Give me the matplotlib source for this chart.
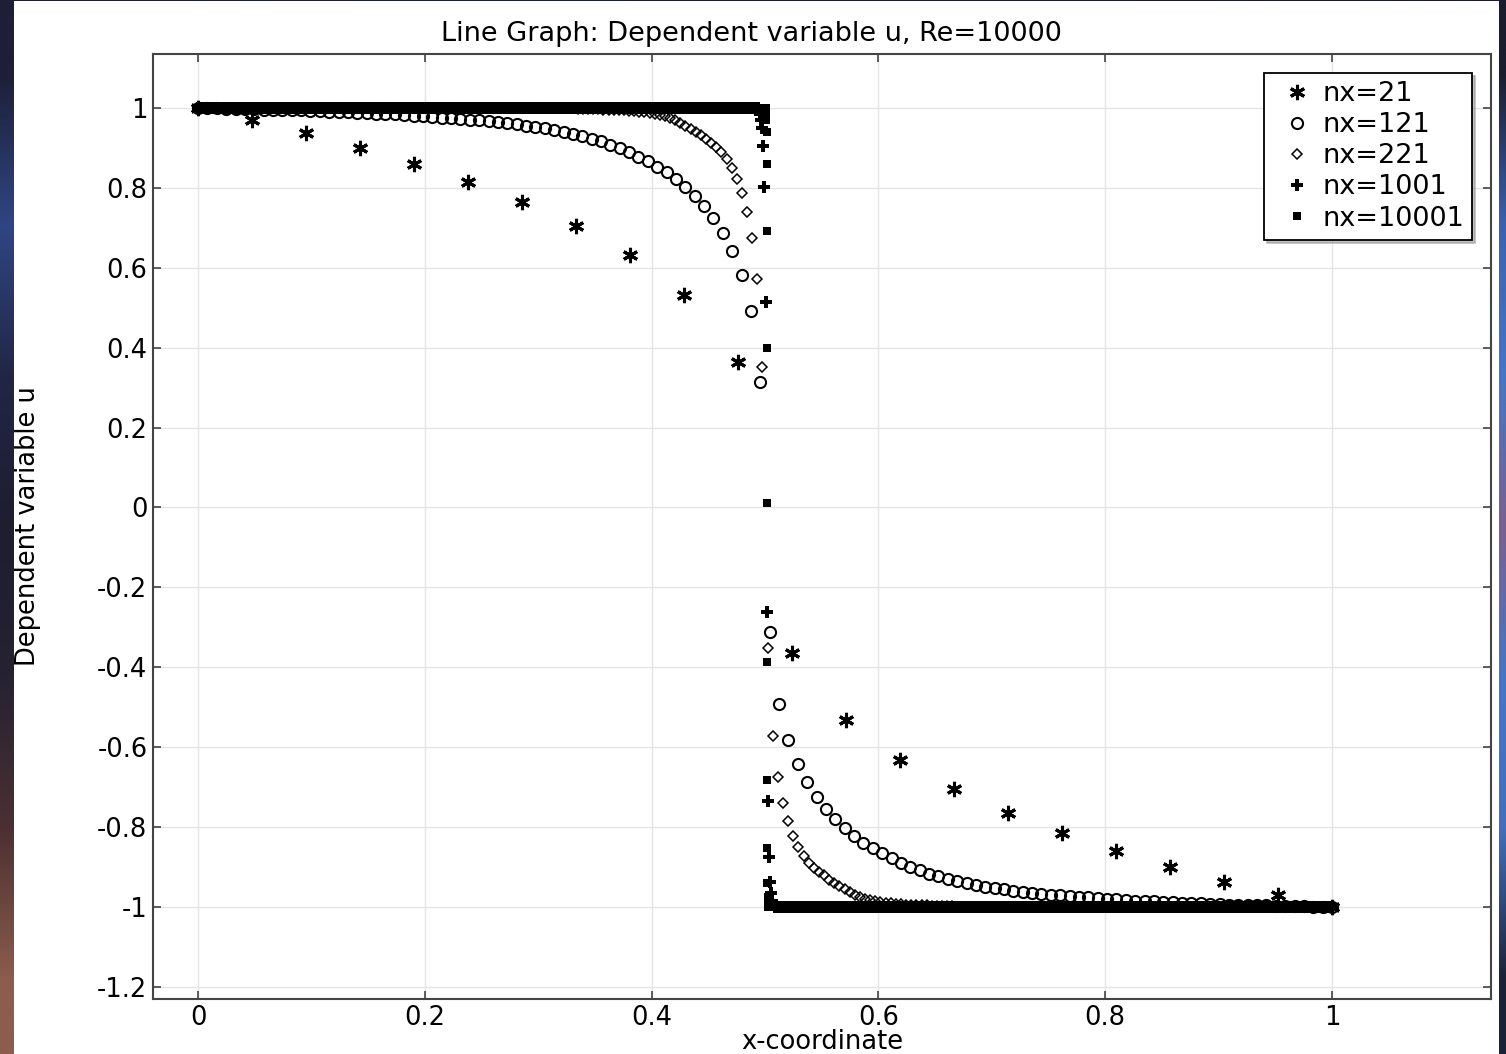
import numpy as np
import matplotlib
matplotlib.use('Agg')
import matplotlib.pyplot as plt
from matplotlib.patches import Rectangle

# --- data (u at the grid nodes, x in [0, 1]) ---
labels = ['nx=21', 'nx=121', 'nx=221', 'nx=1001', 'nx=10001']
n_points = [22, 122, 222, 1002, 10002]

u21 = [1.0, 0.969, 0.937, 0.900, 0.860, 0.815, 0.765, 0.705, 0.632, 0.532, 0.364,
       -0.364, -0.532, -0.632, -0.705, -0.765, -0.815, -0.860, -0.900, -0.937, -0.969, -1.0]

u121 = [1.000, 0.999, 0.999, 0.998, 0.998, 0.997, 0.997, 0.996, 0.996, 0.995,
        0.994, 0.994, 0.993, 0.992, 0.991, 0.990, 0.989, 0.988, 0.987, 0.986,
        0.985, 0.984, 0.982, 0.981, 0.979, 0.978, 0.976, 0.974, 0.973, 0.971,
        0.969, 0.967, 0.965, 0.962, 0.960, 0.956, 0.953, 0.949, 0.945, 0.940,
        0.935, 0.929, 0.923, 0.917, 0.908, 0.899, 0.889, 0.878, 0.866, 0.853,
        0.839, 0.822, 0.802, 0.779, 0.754, 0.725, 0.687, 0.642, 0.581, 0.492,
        0.313,
        -0.313, -0.492, -0.581, -0.642, -0.687, -0.725, -0.754, -0.779, -0.802, -0.822,
        -0.839, -0.853, -0.866, -0.878, -0.889, -0.899, -0.908, -0.917, -0.923, -0.929,
        -0.935, -0.940, -0.945, -0.949, -0.953, -0.956, -0.960, -0.962, -0.965, -0.967,
        -0.969, -0.971, -0.973, -0.974, -0.976, -0.978, -0.979, -0.981, -0.982, -0.984,
        -0.985, -0.986, -0.987, -0.988, -0.989, -0.990, -0.991, -0.992, -0.993, -0.994,
        -0.994, -0.995, -0.996, -0.996, -0.997, -0.997, -0.998, -0.998, -0.999, -0.999,
        -1.000]

u221 = ([1.0] * 70 +
        [0.999, 0.999, 0.999, 0.999, 0.998, 0.998, 0.998, 0.997, 0.997, 0.996,
         0.996, 0.995, 0.995, 0.994, 0.993, 0.992, 0.991, 0.989, 0.987, 0.985,
         0.983, 0.979, 0.975, 0.970, 0.963, 0.956, 0.948, 0.940, 0.932, 0.921,
         0.913, 0.903, 0.890, 0.872, 0.850, 0.822, 0.786, 0.739, 0.675, 0.571,
         0.352,
         -0.352, -0.571, -0.675, -0.739, -0.786, -0.822, -0.850, -0.872, -0.890, -0.903,
         -0.913, -0.921, -0.932, -0.940, -0.948, -0.956, -0.963, -0.970, -0.975, -0.979,
         -0.983, -0.985, -0.987, -0.989, -0.991, -0.992, -0.993, -0.994, -0.995, -0.995,
         -0.996, -0.996, -0.997, -0.997, -0.998, -0.998, -0.998, -0.999, -0.999, -0.999,
         -0.999] +
        [-1.0] * 70)

u1001 = ([1.0] * 495 +
         [0.995, 0.985, 0.97, 0.95, 0.904, 0.803, 0.515,
          -0.263, -0.734, -0.874, -0.937, -0.966, -0.985, -0.995] +
         [-1.0] * 493)

u10001 = ([1.0] * 5012 +
          [0.99, 0.97, 0.941, 0.860, 0.691, 0.400, 0.010,
           -0.386, -0.682, -0.853, -0.94, -0.975, -0.99] +
          [-1.0] * 4977)

series = [u21, u121, u221, u1001, u10001]

xticks = [0, 0.2, 0.4, 0.6, 0.8, 1]
xticklabels = ['0', '0.2', '0.4', '0.6', '0.8', '1']
yticks = [-1.2, -1.0, -0.8, -0.6, -0.4, -0.2, 0, 0.2, 0.4, 0.6, 0.8, 1.0]
yticklabels = ['-1.2', '-1', '-0.8', '-0.6', '-0.4', '-0.2', '0',
               '0.2', '0.4', '0.6', '0.8', '1']

# marker styles per series
styles = [
    dict(marker=(6, 2, 0), ms=11, mew=2.2, mfc='black', mec='black'),
    dict(marker='o', ms=8.0, mew=1.5, mfc='none', mec='black'),
    dict(marker='D', ms=5.4, mew=1.1, mfc='none', mec='black'),
    dict(marker='P', ms=9.0, mew=0.0, mfc='black', mec='black'),
    dict(marker='s', ms=6.0, mew=0.0, mfc='black', mec='black'),
]

plt.rcParams['font.family'] = ['DejaVu Sans']

W, H = 1506, 1054
fig = plt.figure(figsize=(W / 100, H / 100), dpi=100)

# --- screenshot background: desktop strips + white window ---
bg = fig.add_axes([0, 0, 1, 1], zorder=-10)
left_col = ['#1d1f36', '#2f4684', '#222645', '#1d1e2e', '#262232', '#4a3032', '#8c5c4c']
right_col = ['#1a1d2e', '#3b62b2', '#4676c6', '#7a6090', '#4676c6', '#4270bf', '#1c2236']
rgb = lambda c: [int(c[i:i + 2], 16) / 255 for i in (1, 3, 5)]
img = np.array([[rgb(a), rgb(b)] for a, b in zip(left_col, right_col)])
bg.imshow(img, extent=[0, W, H, 0], aspect='auto', interpolation='bilinear')
bg.add_patch(Rectangle((14, 1), 1485, 1053, facecolor='white', edgecolor='none'))
bg.set_xlim(0, W)
bg.set_ylim(H, 0)
bg.axis('off')

# --- main axes ---
ax = fig.add_axes([153 / W, 1 - 999 / H, 1338 / W, 945 / H])
ax.set_facecolor('white')

for u, n, lab, st in zip(series, n_points, labels, styles):
    x = np.linspace(0, 1, n)
    ax.plot(x, u, linestyle='none', color='black', label=lab, **st)

ax.set_xlim(-0.0397, 1.1402)
ax.set_ylim(-1.2305, 1.135)
ax.set_xticks(xticks)
ax.set_xticklabels(xticklabels)
ax.set_yticks(yticks)
ax.set_yticklabels(yticklabels)

ax.grid(True, color='#e4e4e4', linewidth=1.0)
ax.set_axisbelow(True)
for sp in ax.spines.values():
    sp.set_color('#444444')
    sp.set_linewidth(1.5)

ax.tick_params(axis='both', which='both', direction='in', length=6, width=1.2,
               color='#444444', top=True, right=True, labelsize=18.5, labelcolor='black')
ax.tick_params(axis='y', pad=4)
ax.tick_params(axis='x', pad=4)

ax.set_xlabel('x-coordinate', fontsize=18.5)
ax.xaxis.set_label_coords(0.5, -0.032)
ax.set_ylabel('Dependent variable u', fontsize=18.5)
ax.yaxis.set_label_coords(-0.0837, 0.5)

fig.text(751 / W, 1 - 41 / H, 'Line Graph: Dependent variable u, Re=10000',
         ha='center', va='baseline', fontsize=19.5)

leg = ax.legend(loc='upper right', bbox_to_anchor=(0.986, 0.980), borderaxespad=0,
                fontsize=19.5, frameon=True, fancybox=False, shadow={'color': '#999999', 'alpha': 0.6},
                framealpha=1, edgecolor='black', borderpad=0.3,
                handlelength=1.8, handletextpad=0.05, labelspacing=0.19)
leg.get_frame().set_linewidth(1.3)

plt.savefig('out.png', dpi=100)
